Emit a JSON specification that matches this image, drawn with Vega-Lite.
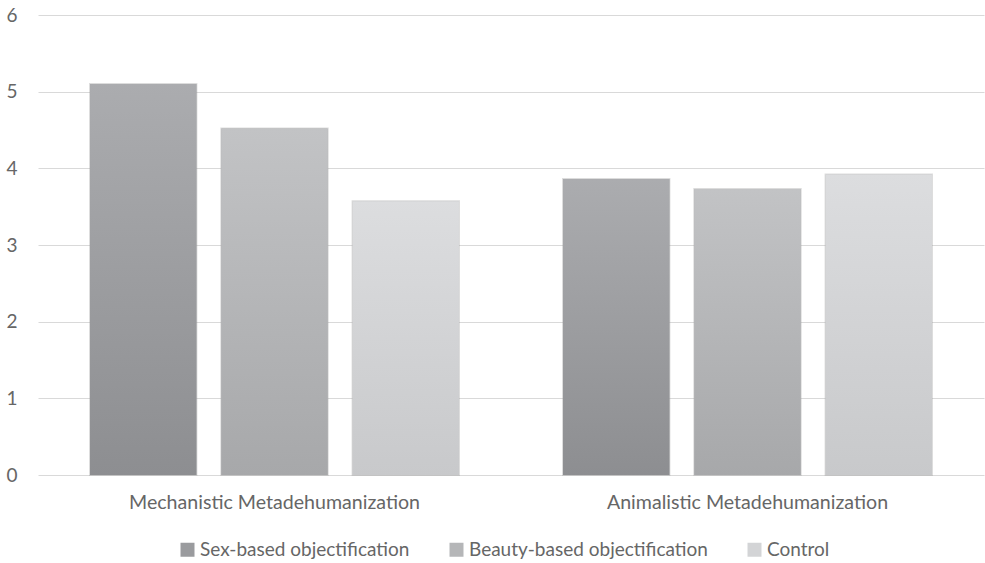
{
  "$schema": "https://vega.github.io/schema/vega-lite/v6.json",
  "width": 946,
  "height": 460,
  "autosize": {"type": "none"},
  "padding": {"left": 38, "top": 15, "right": 1, "bottom": 88},
  "background": "#ffffff",
  "config": {
    "font": "Lato",
    "view": {"stroke": null}
  },
  "data": {
    "values": [
      {"measure": "Mechanistic Metadehumanization", "condition": "Sex-based objectification", "score": 5.10},
      {"measure": "Mechanistic Metadehumanization", "condition": "Beauty-based objectification", "score": 4.52},
      {"measure": "Mechanistic Metadehumanization", "condition": "Control", "score": 3.57},
      {"measure": "Animalistic Metadehumanization", "condition": "Sex-based objectification", "score": 3.86},
      {"measure": "Animalistic Metadehumanization", "condition": "Beauty-based objectification", "score": 3.73},
      {"measure": "Animalistic Metadehumanization", "condition": "Control", "score": 3.92}
    ]
  },
  "encoding": {
    "x": {
      "field": "measure",
      "type": "nominal",
      "sort": ["Mechanistic Metadehumanization", "Animalistic Metadehumanization"],
      "scale": {"paddingInner": 0.22, "paddingOuter": 0.11},
      "axis": {
        "title": null,
        "labelAngle": 0,
        "ticks": false,
        "domain": false,
        "labelFontSize": 19.6,
        "labelLimit": 0,
        "labelColor": "#666666",
        "labelPadding": 18
      }
    },
    "xOffset": {
      "field": "condition",
      "type": "nominal",
      "sort": ["Sex-based objectification", "Beauty-based objectification", "Control"],
      "scale": {"paddingInner": 0.19, "paddingOuter": 0}
    },
    "y": {
      "field": "score",
      "type": "quantitative",
      "scale": {"domain": [0, 6], "nice": false},
      "axis": {
        "title": null,
        "values": [0, 1, 2, 3, 4, 5, 6],
        "ticks": false,
        "domain": false,
        "grid": true,
        "gridColor": "#d9d9d9",
        "gridWidth": 1.2,
        "labelFontSize": 19,
        "labelColor": "#666666",
        "labelPadding": 21
      }
    }
  },
  "layer": [
    {
      "mark": {"type": "bar", "stroke": "#9a9a9a", "strokeOpacity": 0.35, "strokeWidth": 2},
      "encoding": {
        "color": {
          "field": "condition",
          "type": "nominal",
          "scale": {
            "domain": ["Sex-based objectification", "Beauty-based objectification", "Control"],
            "range": ["#9a9b9e", "#b5b6b8", "#d3d4d6"]
          },
          "legend": {
            "title": null,
            "orient": "none",
            "legendX": 140,
            "legendY": 525,
            "direction": "horizontal",
            "symbolType": "square",
            "symbolSize": 196,
            "symbolStrokeWidth": 0,
            "labelFontSize": 19,
            "labelLimit": 0,
            "labelColor": "#666666",
            "labelOffset": 3,
            "columnPadding": 37
          }
        }
      }
    },
    {
      "transform": [{"filter": "datum.condition === 'Sex-based objectification'"}],
      "mark": {
        "type": "bar",
        "color": {
          "gradient": "linear", "x1": 0, "y1": 0, "x2": 0, "y2": 1,
          "stops": [{"offset": 0, "color": "#abacaf"}, {"offset": 1, "color": "#8d8e91"}]
        }
      }
    },
    {
      "transform": [{"filter": "datum.condition === 'Beauty-based objectification'"}],
      "mark": {
        "type": "bar",
        "color": {
          "gradient": "linear", "x1": 0, "y1": 0, "x2": 0, "y2": 1,
          "stops": [{"offset": 0, "color": "#c2c3c5"}, {"offset": 1, "color": "#a7a8aa"}]
        }
      }
    },
    {
      "transform": [{"filter": "datum.condition === 'Control'"}],
      "mark": {
        "type": "bar",
        "color": {
          "gradient": "linear", "x1": 0, "y1": 0, "x2": 0, "y2": 1,
          "stops": [{"offset": 0, "color": "#dcdddf"}, {"offset": 1, "color": "#c8c9cb"}]
        }
      }
    }
  ]
}
